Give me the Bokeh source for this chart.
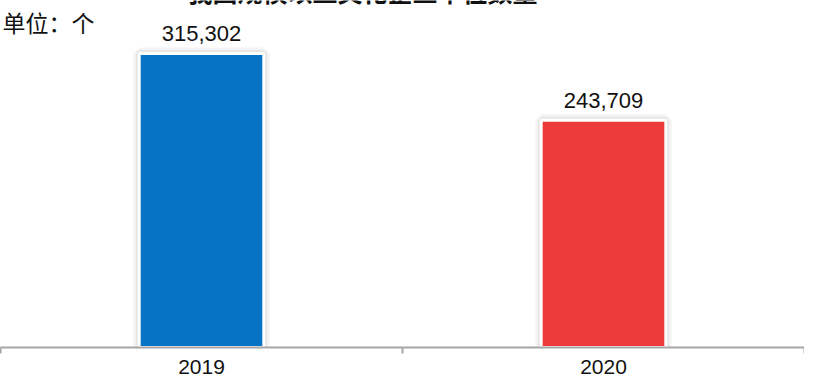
from bokeh.plotting import figure
from bokeh.models import ColumnDataSource, Range1d, FixedTicker, Label
from bokeh.core.properties import value
from bokeh.embed import file_html
from bokeh.resources import INLINE

# ---- data ----
years = ["2019", "2020"]
counts = [315302, 243709]
colors = ["#0673C5", "#EC3A3A"]
unit_text = "单位：个"
title_text = "我国规模以上文化企业单位数量"

xs = [i + 0.5 for i in range(len(years))]
src = ColumnDataSource(dict(
    x=xs, y=counts, color=colors,
    label=[f"{v:,}" for v in counts],
))

p = figure(width=804, height=376, output_backend="svg", toolbar_location=None,
           x_range=Range1d(0, len(years)), y_range=Range1d(0, 372000),
           min_border_left=0, min_border_right=0, min_border_top=0, min_border_bottom=0)
p.outline_line_color = None
p.xgrid.visible = False
p.ygrid.visible = False
p.yaxis.visible = False
p.background_fill_color = "white"
p.border_fill_color = "white"

# soft shadow around the bars
p.vbar(x="x", top="y", width=0.31, source=src, fill_color=None,
       line_color="black", line_alpha=0.04, line_width=12)
p.vbar(x="x", top="y", width=0.31, source=src, fill_color=None,
       line_color="black", line_alpha=0.06, line_width=7)
# bars
p.vbar(x="x", top="y", width=0.31, source=src, fill_color="color",
       line_color="white", line_width=3)

# value labels
p.text(x="x", y="y", text="label", source=src, text_align="center",
       text_baseline="bottom", y_offset=-12, text_color="#111111",
       text_font=value("Liberation Sans"), text_font_size="22px")

# x axis
ax = p.xaxis[0]
ax.ticker = FixedTicker(ticks=xs, minor_ticks=list(range(len(years) + 1)))
ax.major_label_overrides = {x: y for x, y in zip(xs, years)}
ax.major_tick_line_color = None
ax.major_tick_out = 0
ax.major_tick_in = 0
ax.minor_tick_line_color = "#A6A6A6"
ax.minor_tick_line_width = 2
ax.minor_tick_out = 6
ax.minor_tick_in = 0
ax.axis_line_color = "#A6A6A6"
ax.axis_line_width = 2
ax.major_label_standoff = 6
ax.major_label_text_font = "Liberation Sans"
ax.major_label_text_font_size = "21px"
ax.major_label_text_color = "#111111"

# unit label
p.add_layout(Label(x=2, y=343, x_units="screen", y_units="screen", text=unit_text,
                   text_font="Noto Sans CJK SC", text_font_size="23px",
                   text_baseline="top", text_color="#111111"))
# title (cut off at the top in the original)
p.add_layout(Label(x=362, y=357, x_units="screen", y_units="screen", text=title_text,
                   text_font="Noto Sans CJK SC", text_font_size="25px", text_font_style="bold",
                   text_align="center", text_baseline="alphabetic", text_color="#111111"))

open("out.html", "w").write(file_html(p, INLINE))
